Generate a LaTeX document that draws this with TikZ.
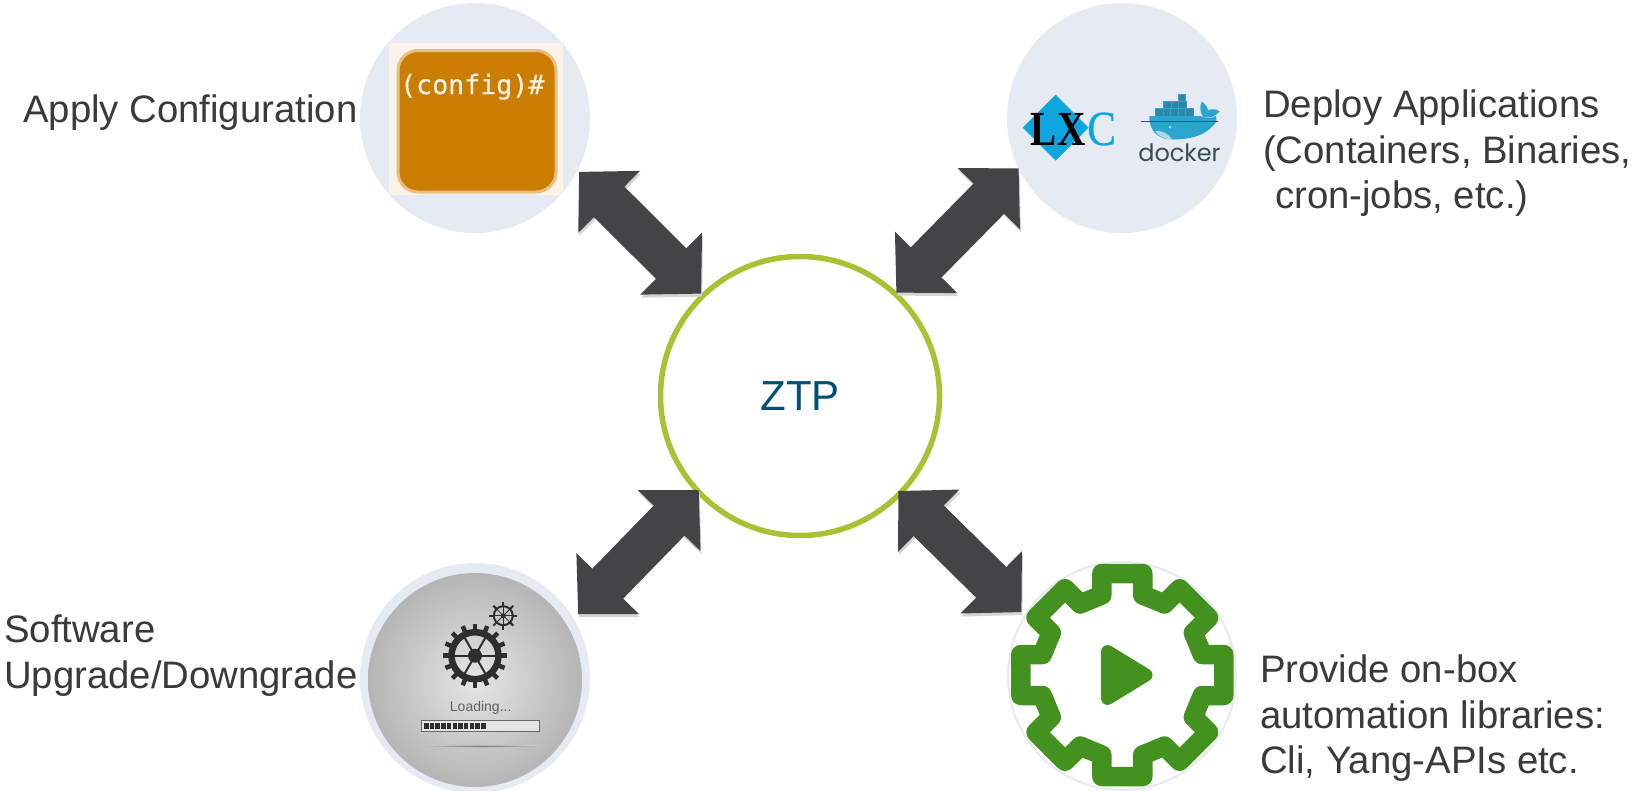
\documentclass[tikz,border=0pt]{standalone}
\usepackage{fontspec}
\setmainfont{Liberation Sans}
\newfontfamily\lxcfont{Liberation Serif}
\newfontfamily\lxcheavy[FakeBold=0.6]{Liberation Serif}
\newfontfamily\dockerfont{Poppins}
\newfontfamily\cfgfont[FakeBold=0.4]{DejaVu Sans Mono}
\usetikzlibrary{arrows.meta}
\usetikzlibrary{shapes.geometric}
\definecolor{hubGrey}{HTML}{E6EAF2}
\definecolor{ringGreen}{HTML}{A9C233}
\definecolor{arrowGrey}{HTML}{434446}
\definecolor{labelGrey}{HTML}{3A3A3A}
\definecolor{ztpBlue}{HTML}{005073}
\definecolor{cfgOrange}{HTML}{CB7D00}
\definecolor{cfgEdge}{HTML}{E8BF82}
\definecolor{cfgCream}{HTML}{FBF3EA}
\definecolor{lxcBlue}{HTML}{0EA5DF}
\definecolor{whaleBlue}{HTML}{2BA5D0}
\definecolor{crateBlue}{HTML}{2C88A8}
\definecolor{dockerInk}{HTML}{394D54}
\definecolor{gearInk}{HTML}{2E2E2E}
\definecolor{playGreen}{HTML}{43921F}

\begin{document}
\begin{tikzpicture}[x = 1pt, y = -1pt]
	\tikzstyle{hubStyle}=[shape = circle, minimum size = 230pt, inner sep = 0pt, outer sep = 0pt, fill = hubGrey]
	\tikzstyle{ztpStyle}=[shape = circle, minimum size = 279pt, inner sep = 0pt, draw = ringGreen, line width = 5.5pt, fill = white, text = ztpBlue, font = \fontsize{42}{50}\selectfont]
	\tikzstyle{labelStyle}=[anchor = base west, inner sep = 0pt, align = left, text = labelGrey, font = \fontsize{38.3}{45.3}\selectfont]
	\tikzstyle{bigArrow}=[draw = arrowGrey, line width = 43pt, {Triangle[length = 42.5pt, width = 85pt]}-{Triangle[length = 42.5pt, width = 85pt]}]
	\tikzstyle{arrowShade}=[preaction = {draw = black!17, transform canvas = {shift = {(1pt,-3pt)}}}]
	\tikzstyle{crate}=[fill = crateBlue, draw = whaleBlue, line width = 0.5pt]
	\useasboundingbox (0,0) rectangle (1633,790);
	\fill[white] (0,0) rectangle (1633,790);
	\node[hubStyle] (cfg) at (475,118) {};
	\node[hubStyle] (dep) at (1122,118) {};
	\node[hubStyle] (upg) at (475,678) {};
	\node[hubStyle] (lib) at (1122,676) {};
	\node[ztpStyle] (ztp) at (800,396) {ZTP};
	\node[labelStyle] (cfgText) at (23,122) {Apply Configuration};
	\node[labelStyle, anchor = north west] (depText) at (1263,90) {Deploy Applications\\(Containers, Binaries,\\\hspace*{12pt}cron-jobs, etc.)};
	\node[labelStyle, anchor = north west] (upgText) at (4,615) {Software\\Upgrade/Downgrade};
	\node[labelStyle, anchor = north west] (libText) at (1260,655) {Provide on-box\\automation libraries:\\Cli, Yang-APIs etc.};
	\fill[cfgCream] (389.3,43.3) rectangle (562.7,195);
	\draw[cfgEdge, fill = cfgOrange, line width = 3pt, rounded corners = 20pt] (398,50.5) rectangle (556,192);
	\node[anchor = base west, inner sep = 0pt, text = cfgCream, font = \cfgfont\fontsize{26.6}{30}\selectfont] (cfgPrompt) at (400,94) {(config)\#};
	\fill[lxcBlue] (1055.7,94.7) -- (1088.5,127.7) -- (1055.7,160.7) -- (1022.7,127.7) -- cycle;
	\node[anchor = base west, inner sep = 0pt, font = \lxcfont\bfseries\fontsize{49}{50}\selectfont] (lxcLX) at (1030.7,145) {\scalebox{0.8}[1]{LX}};
	\node[anchor = base west, inner sep = 0pt, text = lxcBlue, font = \lxcheavy\fontsize{49}{50}\selectfont] (lxcC) at (1087,145) {\scalebox{0.88}[1]{C}};
	\foreach \i in {0,...,4} \fill[crate] (1155.3+7.6*\i,108.3) rectangle ++(7.6,7.7);
	\foreach \i in {0,...,2} \fill[crate] (1163.3+7.5*\i,101) rectangle ++(7.5,7.3);
	\fill[crate] (1178,94) rectangle ++(7.6,7);
	\fill[whaleBlue] (1149.3,116) -- (1200,116) .. controls (1205,118.5) and (1212,118.5) .. (1216,116) -- (1216.5,121) .. controls (1208,135) and (1192,139.5) .. (1172,139.5) .. controls (1158,139.5) and (1149,131) .. (1149.3,116) -- cycle;
	\fill[whaleBlue] (1203,117) .. controls (1199,110) and (1200,105) .. (1202,101.5) .. controls (1205,104) and (1207.5,107) .. (1208,110) .. controls (1212,108.5) and (1217,109) .. (1219.5,111.5) .. controls (1216,116) and (1210,119) .. (1203,117) -- cycle;
	\fill[hubGrey!70!whaleBlue] (1155,131) .. controls (1161,130) and (1168,133) .. (1172,139.3) .. controls (1164,139.5) and (1158,136) .. (1155,131) -- cycle;
	\fill[white] (1170,127.3) circle (1.2);
	\draw[dockerInk, line width = 0.7pt] (1140.7,121.7) -- (1218.3,121.7);
	\node[anchor = base, inner sep = 0pt, text = dockerInk, font = \dockerfont\fontsize{24}{30}\selectfont] (dockerText) at (1179.5,161.5) {docker};
	\shade[inner color = black!10, outer color = black!29] (475,680) circle (107);
	\shade[inner color = black!50, outer color = black!22] (481,746) ellipse (62 and 1.5);
	\foreach \a in {0,22.5,...,337.5} \draw[gearInk, line width = 4.5pt] (475,655.7) ++(\a:24) -- ++(\a:8);
	\draw[gearInk, line width = 6.5pt] (475,655.7) circle (23.5);
	\foreach \a in {0,60,...,300} \draw[gearInk, line width = 2pt] (475,655.7) -- ++(\a:22);
	\fill[gearInk] (475,655.7) circle (7);
	\foreach \a in {0,45,...,315} \draw[gearInk, line width = 2pt] (503.3,615.7) ++(\a:9) -- ++(\a:5);
	\draw[gearInk, line width = 2pt] (503.3,615.7) circle (9.5);
	\foreach \a in {0,45,...,315} \draw[gearInk, line width = 0.8pt] (503.3,615.7) -- ++(\a:9);
	\fill[gearInk] (503.3,615.7) circle (2.5);
	\node[inner sep = 0pt, text = black!62, font = \fontsize{14}{16}\selectfont, anchor = base] (loadText) at (480.7,711.7) {Loading...};
	\draw[black!60, fill = black!10, line width = 1pt] (421.7,720.3) rectangle (539.3,731);
	\foreach \i in {0,...,10} \fill[gearInk] (424+5.7*\i,722.5) rectangle ++(4.5,6.5);
	\fill[white] (1122,676) circle (113);
	\begin{scope}[shift = {(1122.3,675)}]
		\draw[playGreen, line width = 19.5pt, line join = round] (-20.5,-80) \foreach \a in {0,45,...,315} { -- ([rotate = -\a]-20.5,-80) -- ([rotate = -\a]-20.5,-101.5) -- ([rotate = -\a]20.5,-101.5) -- ([rotate = -\a]20.5,-80)} -- cycle;
	\end{scope}
	\draw[playGreen, fill = playGreen, line width = 13pt, line join = round] (1107.5,651.5) -- (1146,675) -- (1107.5,698.5) -- cycle;
	\draw[bigArrow, arrowShade, shorten <= 2.3pt] (cfg.-27) -- (ztp.134);
	\draw[bigArrow, arrowShade, shorten >= -1pt] (dep.206) -- (ztp.47.6);
	\draw[bigArrow, arrowShade, shorten <= 6.5pt, shorten >= -4pt] (upg.31.85) -- (ztp.223.3);
	\draw[bigArrow, arrowShade, shorten <= 4.2pt, shorten >= -5.5pt] (lib.148.4) -- (ztp.316.14);
\end{tikzpicture}
\end{document}
